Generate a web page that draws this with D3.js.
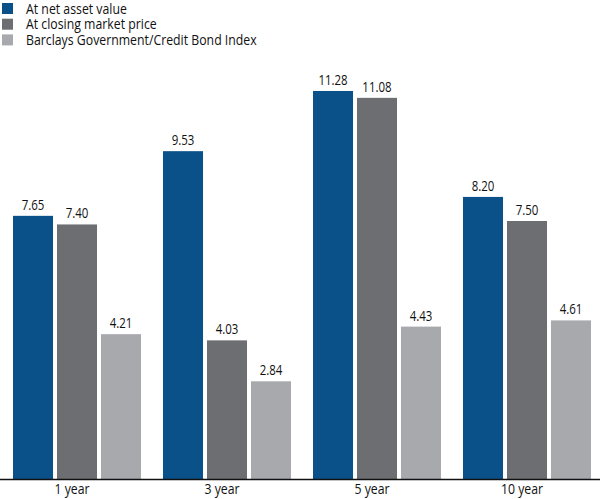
<!DOCTYPE html>
<html><head><meta charset="utf-8">
<script src="https://cdn.jsdelivr.net/npm/d3@7"></script>
<style>body{margin:0;background:#fff}svg{display:block}text{font-family:"Open Sans",sans-serif;fill:#111}</style>
</head><body><svg id="c" width="600" height="499"></svg>
<script>
const categories = ["1 year", "3 year", "5 year", "10 year"];
const seriesNames = ["At net asset value", "At closing market price", "Barclays Government/Credit Bond Index"];
const navValues = [7.65, 9.53, 11.28, 8.20];
const marketValues = [7.40, 4.03, 11.08, 7.50];
const indexValues = [4.21, 2.84, 4.43, 4.61];
const colors = ["#0b5189", "#6d6e71", "#a7a9ac"];

const series = [navValues, marketValues, indexValues];
const svg = d3.select("#c");
const base = 479;
const sx = 0.82;
const x0 = d3.scaleBand().domain(categories).range([0, 600]).paddingInner(0).paddingOuter(0);
const x1 = d3.scaleBand().domain([0,1,2]).range([13, 141]).paddingInner(0.09);
const y = d3.scaleLinear().domain([0, 12]).range([base, base - 412.8]);

const g = svg.append("g");
categories.forEach((c, i) => {
  const gg = g.append("g").attr("transform", `translate(${x0(c)},0)`);
  series.forEach((s, k) => {
    gg.append("rect").attr("x", x1(k)).attr("width", x1.bandwidth())
      .attr("y", y(s[i])).attr("height", base - y(s[i])).attr("fill", colors[k]);
    gg.append("text")
      .attr("transform", `translate(${x1(k) + x1.bandwidth()/2},${y(s[i]) - 6}) scale(${sx},1)`)
      .attr("text-anchor", "middle").attr("font-size", 14).text(s[i].toFixed(2));
  });
});
svg.append("line").attr("x1", 0).attr("x2", 600).attr("y1", base + 0.5).attr("y2", base + 0.5)
  .attr("stroke", "#111").attr("stroke-width", 1.5);
const xAxis = d3.axisBottom(x0).tickSize(0).tickPadding(0);
const ax = svg.append("g").attr("transform", `translate(0,${base})`).call(xAxis);
ax.select(".domain").remove();
ax.selectAll(".tick text").attr("y", null).attr("dy", null)
  .attr("transform", `translate(${-3},15) scale(${sx},1)`)
  .attr("font-size", 15).attr("font-family", '"Open Sans",sans-serif').attr("fill", "#111");

const lg = svg.append("g");
seriesNames.forEach((n, k) => {
  lg.append("rect").attr("x", 2).attr("y", 3 + k*15.7).attr("width", 11).attr("height", 11).attr("fill", colors[k]);
  lg.append("text").attr("transform", `translate(26,${13.5 + k*15.8}) scale(${sx},1)`)
    .attr("font-size", 15).text(n);
});
</script></body></html>
